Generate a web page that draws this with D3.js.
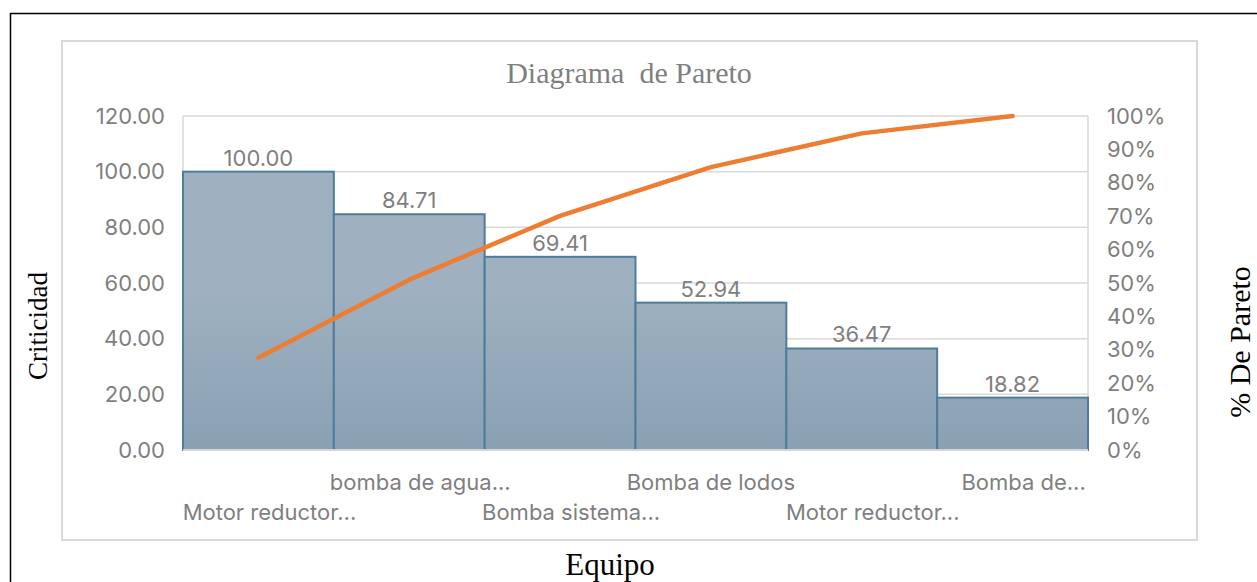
<!DOCTYPE html>
<html>
<head>
<meta charset="utf-8">
<script src="https://cdn.jsdelivr.net/npm/d3@7"></script>
<style>
  body { margin: 0; background: #fff; }
  .tick-label { font-family: Inter, "Open Sans", sans-serif; font-size: 22px; fill: #7f7f7f; }
  .axis-title { font-family: "Liberation Serif", "DejaVu Serif", serif; font-size: 29px; fill: #000; }
  .grid line { stroke: #d9d9d9; stroke-width: 1.5; }
</style>
</head>
<body>
<svg id="chart" width="1257" height="582"></svg>
<script>
// data
const categories = ["Motor reductor...", "bomba de agua...", "Bomba sistema...", "Bomba de lodos", "Motor reductor...", "Bomba de..."];
const criticidad = [100.00, 84.71, 69.41, 52.94, 36.47, 18.82];
const paretoPct = [27.6, 51.0, 70.1, 84.7, 94.8, 100];
const leftTicks = [0, 20, 40, 60, 80, 100, 120];
const rightTicks = [0, 10, 20, 30, 40, 50, 60, 70, 80, 90, 100];

const margin = { top: 116, right: 169, bottom: 132, left: 183 },
  W = 1257, H = 582,
  width = W - margin.left - margin.right,
  height = H - margin.top - margin.bottom;

const svg = d3.select("#chart");

// outer black frame (runs off the right/bottom like the source)
svg.append("rect")
  .attr("x", 10.5).attr("y", 13.5)
  .attr("width", 1300).attr("height", 700)
  .attr("fill", "none").attr("stroke", "#000").attr("stroke-width", 1.5);

// chart area box
svg.append("rect")
  .attr("x", 62).attr("y", 41)
  .attr("width", 1135).attr("height", 499)
  .attr("fill", "#fff").attr("stroke", "#d9d9d9").attr("stroke-width", 2);

const defs = svg.append("defs");
const grad = defs.append("linearGradient")
  .attr("id", "barGrad").attr("x1", 0).attr("x2", 0)
  .attr("gradientUnits", "userSpaceOnUse")
  .attr("y1", margin.top + 56).attr("y2", margin.top + height);
grad.append("stop").attr("offset", "0%").attr("stop-color", "#9fb1c0");
grad.append("stop").attr("offset", "100%").attr("stop-color", "#7a95ab");

const g = svg.append("g")
  .attr("transform", "translate(" + margin.left + "," + margin.top + ")");

const x = d3.scaleBand().domain(d3.range(categories.length)).range([0, width]).padding(0);
const y = d3.scaleLinear().domain([0, 120]).range([height, 0]);
const y2 = d3.scaleLinear().domain([0, 100]).range([height, 0]);

// gridlines
g.append("g").attr("class", "grid")
  .selectAll("line").data(leftTicks).join("line")
  .attr("x1", 0).attr("x2", width)
  .attr("y1", d => y(d)).attr("y2", d => y(d));

// plot area sides
g.append("line").attr("x1", 0).attr("x2", 0).attr("y1", 0).attr("y2", height)
  .attr("stroke", "#d9d9d9").attr("stroke-width", 1.5);
g.append("line").attr("x1", width).attr("x2", width).attr("y1", 0).attr("y2", height)
  .attr("stroke", "#d9d9d9").attr("stroke-width", 1.5);

// bars
g.selectAll(".bar").data(criticidad).join("rect")
  .attr("class", "bar")
  .attr("x", (d, i) => x(i))
  .attr("y", d => y(d))
  .attr("width", x.bandwidth())
  .attr("height", d => height - y(d))
  .attr("fill", "url(#barGrad)")
  .attr("stroke", "#4e7d9c")
  .attr("stroke-width", 2);

// baseline
g.append("line").attr("x1", 0).attr("x2", width).attr("y1", height).attr("y2", height)
  .attr("stroke", "#d0d6dc").attr("stroke-width", 2);

// bar value labels
g.selectAll(".val").data(criticidad).join("text")
  .attr("class", "tick-label val")
  .attr("x", (d, i) => x(i) + x.bandwidth() / 2)
  .attr("y", d => y(d) - 6)
  .attr("text-anchor", "middle")
  .text(d => d3.format(".2f")(d));

// left axis
const leftAxis = d3.axisLeft(y).tickValues(leftTicks).tickFormat(d3.format(".2f")).tickSize(0).tickPadding(18);
const la = g.append("g").call(leftAxis);
la.select(".domain").remove();
la.selectAll("text").attr("class", "tick-label").attr("font-family", null).attr("font-size", null).attr("fill", null);

// right axis
const rightAxis = d3.axisRight(y2).tickValues(rightTicks).tickFormat(d => d + "%").tickSize(0).tickPadding(19);
const ra = g.append("g").attr("transform", "translate(" + width + ",0)").call(rightAxis);
ra.select(".domain").remove();
ra.selectAll("text").attr("class", "tick-label").attr("font-family", null).attr("font-size", null).attr("fill", null);

// category labels, staggered in two rows
g.selectAll(".cat").data(categories).join("text")
  .attr("class", "tick-label cat")
  .attr("x", (d, i) => x(i) + x.bandwidth() / 2 + (d.endsWith("...") ? 11 : 0))
  .attr("y", (d, i) => height + (i % 2 === 0 ? 70 : 40))
  .attr("text-anchor", "middle")
  .text(d => d);

// pareto line
const line = d3.line()
  .x((d, i) => x(i) + x.bandwidth() / 2)
  .y(d => y2(d));
g.append("path")
  .datum(paretoPct)
  .attr("d", line)
  .attr("fill", "none")
  .attr("stroke", "#ed7d31")
  .attr("stroke-width", 4.5)
  .attr("stroke-linecap", "round")
  .attr("stroke-linejoin", "round");

// title
svg.append("text")
  .attr("x", 629).attr("y", 83)
  .attr("text-anchor", "middle")
  .attr("font-family", "'Liberation Serif', serif")
  .attr("font-size", 30)
  .attr("fill", "#7f7f7f")
  .style("white-space", "pre")
  .text("Diagrama  de Pareto");

// axis titles
svg.append("text").attr("class", "axis-title")
  .attr("transform", "translate(47,326) rotate(-90)")
  .attr("text-anchor", "middle")
  .style("font-size", "27px")
  .text("Criticidad");
svg.append("text").attr("class", "axis-title")
  .attr("transform", "translate(1250,342) rotate(-90)")
  .attr("text-anchor", "middle")
  .style("font-size", "30px")
  .text("% De Pareto");
svg.append("text").attr("class", "axis-title")
  .attr("x", 610).attr("y", 575)
  .attr("text-anchor", "middle")
  .style("font-size", "31px")
  .text("Equipo");
</script>
</body>
</html>
